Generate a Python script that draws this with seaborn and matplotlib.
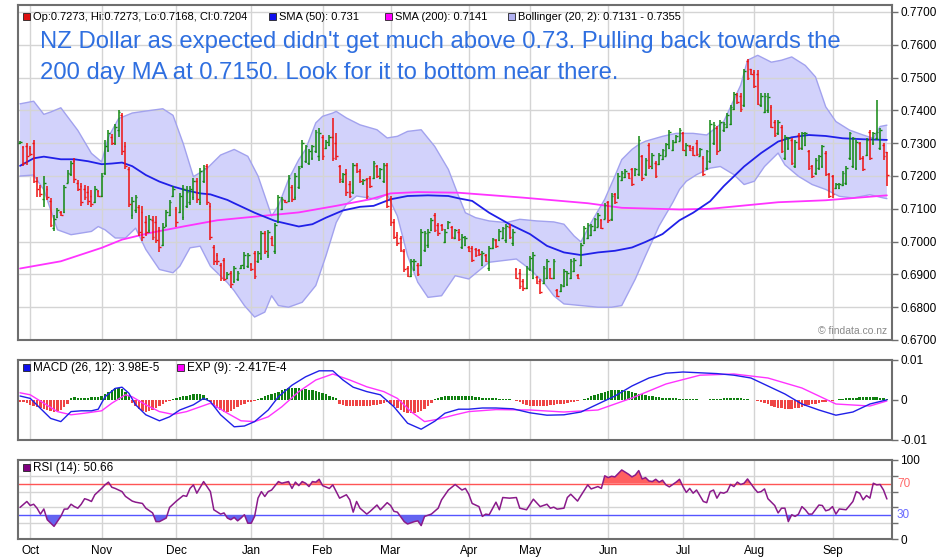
import numpy as np
import matplotlib
matplotlib.use("Agg")
import matplotlib.pyplot as plt
from matplotlib.patches import Rectangle
import matplotlib.transforms as mtransforms
import seaborn as sns

# ---------------- data (prices in pips, 1 pip = 0.0001) ----------------
bar_open = [7300,7288,7290,7285,7300,7185,7165,7130,7160,7125,7040,7075,7090,7090,7180,7205,7245,7180,7170,7160,
            7150,7140,7120,7155,7140,7210,7280,7320,7300,7340,7385,7290,7220,7080,7095,7105,7090,7060,7035,7065,
            7060,7035,6990,7050,7080,7140,7100,7090,7075,7110,7120,7135,7185,7120,7185,7230,7110,6985,6960,6930,
            6945,6888,6905,6880,6885,6918,6920,6925,6932,6965,6940,6950,7025,6960,7010,6970,7060,7100,7126,7125,
            7165,7135,7165,7230,7245,7240,7255,7275,7260,7320,7285,7295,7320,7300,7230,7185,7210,7175,7150,7235,
            7215,7178,7190,7195,7195,7230,7195,7185,7235,7130,7060,7020,7010,6970,6920,6895,6915,6930,6930,6975,
            6990,7035,7080,7050,7050,7000,7040,7045,7010,7030,6985,6990,6985,6980,6978,6975,6930,6958,6920,6980,
            7005,7005,7010,7005,7045,6995,6915,6905,6880,6860,6915,6890,6892,6880,6875,6890,6915,6890,6852,6848,
            6865,6870,6890,6910,6898,6930,6995,7010,7020,7035,7045,7065,7070,7120,7070,7145,7135,7188,7198,7208,
            7220,7202,7205,7260,7205,7295,7225,7240,7238,7252,7262,7285,7280,7303,7308,7330,7265,7292,7285,7300,
            7262,7255,7225,7245,7300,7345,7280,7340,7350,7360,7405,7448,7445,7415,7550,7525,7518,7510,7415,7395,
            7400,7410,7365,7330,7350,7255,7285,7310,7230,7325,7285,7295,7275,7230,7208,7225,7230,7270,7205,7200,
            7162,7162,7172,7178,7255,7230,7225,7300,7255,7265,7335,7300,7315,7285,7295,7273]
bar_high = [7306,7291,7301,7291,7309,7196,7173,7200,7168,7132,7082,7102,7092,7173,7218,7246,7254,7188,7178,7173,
            7168,7158,7168,7158,7208,7309,7339,7329,7360,7402,7392,7304,7226,7135,7142,7112,7109,7077,7082,7077,
            7079,7046,7057,7097,7127,7168,7107,7147,7173,7168,7168,7193,7193,7223,7233,7238,7117,6991,6966,6935,
            6950,6907,6910,6925,6910,6930,6968,6966,6935,6971,6971,7031,7031,7036,7016,7057,7142,7135,7127,7203,
            7173,7208,7230,7311,7296,7281,7296,7341,7346,7326,7311,7326,7377,7331,7235,7210,7220,7184,7240,7240,
            7220,7190,7195,7200,7245,7235,7225,7240,7240,7139,7068,7028,7017,6977,6926,6947,6947,6936,7038,7033,
            7038,7073,7088,7058,7053,7038,7063,7048,7038,7038,7023,7017,6987,6987,6982,6977,6972,6962,6987,7012,
            7007,7038,7043,7053,7053,7038,6921,6916,6886,6926,6957,6967,6896,6886,6926,6947,6921,6947,6856,6871,
            6916,6911,6947,6949,6901,6997,7048,7058,7053,7073,7088,7068,7119,7124,7149,7149,7210,7215,7220,7210,
            7225,7225,7321,7265,7255,7301,7270,7245,7270,7281,7301,7341,7311,7326,7346,7335,7300,7295,7290,7310,
            7285,7260,7280,7371,7366,7351,7371,7366,7391,7416,7457,7452,7452,7527,7558,7527,7522,7522,7452,7452,
            7452,7416,7371,7371,7356,7325,7320,7315,7310,7330,7335,7335,7280,7234,7255,7265,7295,7275,7209,7204,
            7179,7179,7214,7229,7335,7320,7310,7305,7260,7315,7340,7335,7433,7345,7300,7273]
bar_low = [7298,7230,7233,7260,7178,7137,7136,7107,7127,7046,7031,7072,7077,7087,7178,7200,7178,7153,7109,7127,
           7112,7107,7119,7137,7137,7203,7274,7294,7294,7319,7264,7220,7107,7069,7087,7016,7001,7016,7026,7006,
           6996,6968,6986,7046,7077,7137,7046,7087,7067,7102,7112,7127,7117,7112,7178,7112,7006,6930,6930,6880,
           6880,6885,6860,6875,6880,6915,6915,6920,6910,6885,6935,6945,6961,6951,6986,6961,7057,7097,7119,7122,
           7122,7127,7159,7225,7240,7235,7250,7270,7245,7250,7281,7291,7245,7250,7179,7179,7139,7134,7144,7210,
           7179,7174,7129,7164,7190,7195,7190,7179,7103,7048,7007,6987,6967,6906,6891,6891,6911,6896,6926,6967,
           6982,7033,7028,7017,7033,6997,7038,7007,7007,7002,6977,6987,6967,6937,6952,6957,6926,6937,6911,6977,
           6982,7002,7007,6997,7007,6987,6886,6856,6850,6856,6911,6886,6871,6840,6871,6886,6886,6886,6830,6846,
           6861,6866,6886,6906,6886,6926,6992,7007,7017,7033,7043,7038,7068,7058,7063,7114,7129,7184,7195,7190,
           7169,7200,7200,7184,7200,7220,7220,7195,7235,7250,7260,7281,7276,7301,7306,7275,7260,7275,7260,7260,
           7260,7199,7219,7239,7295,7265,7275,7335,7345,7356,7401,7421,7396,7411,7492,7507,7467,7416,7411,7391,
           7391,7345,7320,7325,7270,7250,7280,7234,7224,7280,7280,7290,7219,7194,7204,7219,7224,7199,7133,7133,
           7159,7159,7169,7174,7250,7224,7219,7250,7214,7260,7250,7295,7310,7280,7250,7168]
bar_close = [7305,7240,7262,7268,7185,7160,7145,7180,7135,7050,7070,7095,7080,7165,7210,7240,7190,7160,7120,7135,
             7125,7115,7160,7140,7200,7290,7330,7300,7350,7395,7275,7230,7115,7125,7135,7030,7015,7030,7070,7015,
             7005,6985,7045,7090,7120,7160,7060,7140,7160,7150,7160,7185,7130,7215,7225,7120,7015,6940,6940,6890,
             6885,6900,6870,6920,6905,6928,6960,6960,6915,6895,6965,7025,6970,7030,6990,7050,7135,7130,7120,7195,
             7130,7200,7225,7300,7290,7275,7290,7335,7330,7260,7305,7320,7255,7260,7190,7205,7150,7140,7235,7215,
             7185,7188,7140,7170,7240,7200,7220,7235,7110,7060,7015,6995,6975,6915,6895,6940,6940,6900,7030,7025,
             7030,7065,7035,7025,7038,7030,7060,7015,7035,7008,7015,7012,6970,6945,6960,6962,6965,6942,6980,7008,
             6988,7032,7040,7048,7015,7030,6890,6865,6858,6920,6950,6960,6875,6845,6920,6940,6890,6940,6835,6868,
             6910,6905,6940,6945,6890,6990,7040,7050,7048,7068,7082,7042,7112,7065,7140,7120,7200,7210,7215,7195,
             7175,7220,7310,7195,7250,7230,7265,7200,7265,7278,7298,7335,7305,7322,7340,7280,7295,7280,7265,7268,
             7282,7205,7275,7360,7355,7275,7365,7360,7385,7410,7450,7425,7405,7520,7500,7510,7475,7420,7445,7445,
             7440,7350,7325,7365,7275,7320,7315,7240,7305,7285,7330,7330,7225,7200,7250,7260,7290,7205,7140,7145,
             7175,7176,7210,7225,7330,7315,7305,7255,7220,7310,7255,7330,7335,7340,7260,7204]

sma50_idx = [0,4,7,12,16,20,24,27,30,33,37,41,45,49,53,56,61,63,69,75,82,86,90,95,100,104,109,114,120,126,129,
             133,138,144,150,155,160,165,170,175,180,184,189,194,198,203,207,213,218,223,227,232,237,242,248,255]
sma50 = [7231,7254,7259,7251,7251,7245,7236,7238,7241,7230,7203,7183,7168,7156,7147,7144,7127,7117,7088,7063,
         7046,7053,7073,7095,7106,7109,7129,7139,7141,7139,7132,7124,7088,7053,7023,6987,6967,6959,6967,6972,
         6982,6999,7023,7065,7088,7123,7169,7229,7270,7305,7318,7325,7322,7315,7312,7310]
sma200_idx = [0,12,24,30,38,48,58,68,82,93,103,109,117,129,148,167,177,194,203,213,223,237,255]
sma200 = [6918,6940,6981,7006,7026,7046,7065,7075,7089,7109,7129,7147,7151,7149,7134,7117,7103,7098,7100,7110,
          7120,7126,7141]
bb_up_idx = [0,4,7,9,12,17,21,24,26,29,33,37,42,45,48,51,55,59,63,67,70,73,74,76,79,82,84,87,89,92,93,96,100,
             105,108,111,114,118,122,126,129,131,134,138,143,147,152,157,160,163,165,168,172,175,177,180,182,184,
             189,193,198,202,207,212,214,217,221,224,227,231,234,237,240,244,248,251,253,255]
bb_up = [7420,7428,7388,7395,7408,7339,7269,7243,7319,7375,7392,7398,7405,7385,7299,7198,7223,7264,7281,7260,
         7200,7109,7078,7109,7190,7250,7281,7362,7382,7392,7397,7377,7356,7341,7316,7321,7336,7341,7290,7220,
         7139,7088,7073,7063,7058,7068,7063,7060,7053,7017,6999,7058,7129,7200,7250,7281,7296,7306,7321,7330,
         7330,7325,7366,7477,7553,7568,7547,7553,7563,7537,7502,7411,7366,7340,7325,7315,7351,7355]
bb_lo_idx = [0,4,7,9,11,15,18,21,23,25,28,31,34,37,41,45,47,50,53,56,61,63,66,69,72,74,76,79,83,87,90,93,96,99,
             102,105,108,111,114,117,120,124,128,132,138,146,150,154,157,160,165,170,174,177,181,184,188,192,194,
             196,199,203,206,210,213,216,219,223,225,229,233,237,241,245,250,254,255]
bb_lo = [7200,7203,7158,7097,7036,7021,7026,7031,7046,7036,7011,7011,7041,6976,6915,6905,6925,6981,6986,6925,
         6875,6850,6805,6770,6785,6835,6805,6800,6815,6866,6957,7058,7114,7139,7134,7129,7144,7078,6957,6876,
         6830,6835,6896,6886,6937,6947,6916,6876,6835,6810,6805,6800,6800,6805,6886,6957,7048,7119,7159,7184,
         7204,7224,7229,7204,7174,7184,7229,7270,7234,7199,7174,7159,7138,7133,7143,7133,7131]

# MACD values in units of 1e-4
macd_idx = [0,3,6,9,12,15,18,21,23,25,28,30,32,34,37,41,44,47,51,54,56,59,63,66,69,73,76,80,84,88,92,95,98,102,
            106,110,114,118,122,125,129,132,136,140,145,150,155,160,165,170,175,180,185,190,195,200,205,210,215,
            220,225,230,235,240,245,250,255]
macd = [10,4,-21,-46,-54,-29,-27,-27,-23,8,29,32,17,-12,-37,-52,-42,-25,-12,4,-4,-37,-67,-65,-54,-25,8,37,58,73,
        73,50,32,21,13,-17,-58,-73,-53,-33,-23,-23,-20,-20,-22,-32,-38,-37,-30,-10,10,35,55,67,70,68,66,62,55,
        35,15,-10,-25,-38,-30,-10,0.4]
signal_idx = [0,3,7,11,15,19,24,27,31,33,37,41,45,49,53,56,61,65,69,73,77,82,87,92,97,102,107,111,115,119,123,
              128,132,140,150,160,170,180,190,200,210,220,230,240,250,255]
signal = [18,13,-8,-29,-37,-33,-27,-8,13,8,-12,-29,-36,-29,-17,-8,-33,-52,-54,-42,-17,21,50,65,50,33,21,4,-29,
          -54,-48,-37,-29,-24,-25,-30,-25,5,40,62,65,55,30,-10,-15,-2.4]
hist = [-5,-6,-8, -12,-15,-18,-21,-23, -26,-28,-29,-27,-24, -18,-10,
        6,7,6,5,5,6,7,8,7, 10,14,20,26,29,30,27,20, 12,
        -8,-15,-22,-27,-29,-28,-24,-20,-15,-10,-6,-3,
        3,5,7,9,11,13,15,16,15,12,6,
        -5,-12,-20,-26,-29,-29,-27,-23,-18,-13,-9,-6,-4, -2,
        3,6,9,12,15,18,21,24,27,29,30,30,29,28,27,26,24,22,20,17,14,11,8,5,
        -10,-13,-15,-16,-15,-15,-15,-15,-15,-14,-13,-12,-10,-8,-6,
        -10,-15,-20,-25,-30,-33,-33,-32,-30,-27,-22,-15,-8,
        3,6,8,9,10,10,10,10,10,10,10,
        9,8,7,6,5,5,4,4,3,3,2,2,1,
        -3,-6,-9,-12,-14,-15,-16,-16,-15,-14,-13,-12,-11,-10,-9,-8,-6,-4,-2,-1,
        3,6,9,12,15,18,20,22,24,25,25,24,23,22,20,18,16,14,12,10,9,8,7,6,5,5,4,4,3,3,3,2,2,2,1,
        1,1,2,2,3,3,4,4,5,5,5,4,3,2,1,-1,-2,
        -5,-8,-11,-14,-17,-19,-21,-22,-23,-22,-21,-19,-17,-15,-13,-11,-9,-7,-5,-4,-3,-2,-1,
        2,3,4,5,6,6,7,7,7,8,8,7,6,5,3]

rsi_idx = [0,2,3,4,5,6,7,8,10,12,13,14,15,16,17,18,19,20,21,22,24,25,26,27,28,30,31,33,34,36,37,39,40,41,43,44,
           46,48,49,50,51,52,54,56,57,59,60,61,62,63,64,65,66,67,68,69,70,71,72,73,74,76,77,79,80,81,82,83,84,85,
           86,87,88,89,91,92,93,94,96,97,98,99,100,102,103,105,106,108,109,110,111,113,114,116,117,118,119,121,
           123,124,126,128,130,131,132,133,135,136,137,138,140,141,142,144,146,147,149,151,153,155,156,157,158,
           160,161,162,164,165,167,168,170,171,172,173,174,175,176,177,179,180,181,182,183,184,185,186,187,188,
           189,190,191,193,194,195,196,197,198,199,201,202,203,204,205,206,207,208,209,210,211,212,213,214,216,
           217,218,219,220,221,222,223,224,225,226,227,228,229,230,231,232,233,235,236,237,238,239,240,241,243,
           245,246,247,248,249,250,251,252,253,254,255]
rsi = [40,47.5,42.4,44,39,31.5,38,24.4,16,28.6,37.8,38,44,41,39,44,51,49.6,47.5,56,64,68.5,72,65.5,64,60,54,48,
       46.6,45,39,33,22,22,26.5,40,48,55,54,64,68.5,58,72.7,60,37,31.5,33,26.5,24.4,27.3,23,26.5,30.7,20,20,28.6,
       51.7,60,53.8,60,62,72.7,70.6,72.7,64,72,67.6,72.7,70.6,66.4,72.7,72,75.6,67.6,64,68.5,60,51.7,56,49.6,34,
       47.5,39,31.5,35,43,37,46,42.4,35,34,22,19,22,23,17,28.6,31.5,39,49.6,62,69,62,64,56.7,45,41,28.6,31.5,30.7,
       46.6,37,52.5,51.7,52.5,39,37,50.4,41,44,39,40.3,37.8,39,52.5,56.7,48,55,68.5,63.4,66.4,64,80,77.7,79.4,78.6,
       83,87.4,82,78.6,81,86.6,76,77.7,73.5,72.7,75.6,72,74.4,68.5,66,72,75.6,66.4,59,64,58,62,47.5,46,60,62,51.7,
       59,58,60,69,66.4,72,69,70.6,76,64,59,60,63.4,51,46.6,42.4,33,39,39,22,30.7,28.6,31.5,41,37,31.5,31.5,43,
       42.4,35.7,37,41,31.5,38,37,47.5,60,58,49.6,55,51.7,70.6,68.5,69,62,50.66]

month_labels = ["Oct", "Nov", "Dec", "Jan", "Feb", "Mar", "Apr", "May", "Jun", "Jul", "Aug", "Sep"]
month_idx = [3, 24, 46, 68, 89, 109, 132, 150, 173, 195, 216, 239]

title_lines = ["NZ Dollar as expected didn't get much above 0.73. Pulling back towards the",
               "200 day MA at 0.7150. Look for it to bottom near there."]

# ---------------- style ----------------
sns.set_style("white")
plt.rcParams["font.family"] = ["Liberation Sans", "DejaVu Sans"]

W, H = 940, 560
fig = plt.figure(figsize=(W / 100, H / 100), dpi=100)

def fx(px):
    return px / W

def fy(py):
    return 1 - py / H

LEFT, RIGHT = 18, 892
SPINE = "#6e6e6e"
GRID = "#d4d4d4"
GREEN = "#118811"
RED = "#ee1111"
BLUE = "#2020e8"
MAGENTA = "#ff33ff"

ax1 = fig.add_axes([fx(LEFT), fy(340), fx(RIGHT - LEFT), (340 - 5) / H])
ax2 = fig.add_axes([fx(LEFT), fy(440), fx(RIGHT - LEFT), 80 / H])
ax3 = fig.add_axes([fx(LEFT), fy(539), fx(RIGHT - LEFT), 79 / H])

n = len(bar_close)
xs = np.arange(n)
XMIN, XMAX = -0.6, 256.5

for ax in (ax1, ax2, ax3):
    ax.set_xlim(XMIN, XMAX)
    for s in ax.spines.values():
        s.set_color(SPINE)
        s.set_linewidth(1.5)
    for m in month_idx:
        ax.axvline(m, color=GRID, lw=1.0, zorder=1)
    ax.yaxis.tick_right()
    ax.tick_params(axis="y", direction="out", length=4, width=1, colors=SPINE,
                   labelcolor="black", labelsize=8.5, pad=2)
    ax.tick_params(axis="x", length=0, labelbottom=False)

# ---------------- main price panel ----------------
o = np.array(bar_open) / 1e4
h = np.array(bar_high) / 1e4
l = np.array(bar_low) / 1e4
c = np.array(bar_close) / 1e4
ax1.set_ylim(0.67, 0.77 + 7 / 3280)
for yv in np.arange(0.67, 0.7701, 0.01):
    ax1.axhline(yv, color=GRID, lw=1.0, zorder=1)

bu_x = np.array(bb_up_idx); bu_y = np.array(bb_up) / 1e4
bl_x = np.array(bb_lo_idx); bl_y = np.array(bb_lo) / 1e4
ax1.fill(np.r_[bu_x, bl_x[::-1]], np.r_[bu_y, bl_y[::-1]], facecolor="#d2d2fb", edgecolor="none", zorder=0.5)
sns.lineplot(x=bu_x, y=bu_y, ax=ax1, color="#a2a2ee", lw=1.0, sort=False, estimator=None, zorder=2)
sns.lineplot(x=bl_x, y=bl_y, ax=ax1, color="#a2a2ee", lw=1.0, sort=False, estimator=None, zorder=2)

sns.lineplot(x=np.array(sma200_idx), y=np.array(sma200) / 1e4, ax=ax1, color=MAGENTA, lw=1.3,
             sort=False, estimator=None, zorder=3)
sns.lineplot(x=np.array(sma50_idx), y=np.array(sma50) / 1e4, ax=ax1, color=BLUE, lw=1.3,
             sort=False, estimator=None, zorder=3)

cols = np.where(c >= o, GREEN, RED)
ax1.vlines(xs, l, h, colors=cols, lw=1.1, zorder=4)
ax1.hlines(o, xs - 0.5, xs, colors=cols, lw=1.0, zorder=4)
ax1.hlines(c, xs, xs + 0.5, colors=cols, lw=1.0, zorder=4)

ax1.set_yticks(np.round(np.arange(0.67, 0.7701, 0.01), 2))
ax1.set_yticklabels([f"{v:.4f}" for v in np.arange(0.67, 0.7701, 0.01)])
ax1.text(0.994, 0.012, "\u00a9 findata.co.nz", transform=ax1.transAxes, ha="right", va="bottom",
         fontsize=7.5, color="#8a8a8a", zorder=5)

# ---------------- MACD panel ----------------
ax2.set_ylim(-0.01, 0.01)
hv = np.array(hist) * 1e-4
ax2.bar(xs, hv, width=0.72, color=np.where(hv >= 0, "#108010", "#ee4444"), zorder=2, linewidth=0)
sns.lineplot(x=np.array(signal_idx), y=np.array(signal) * 1e-4, ax=ax2, color=MAGENTA, lw=1.0,
             sort=False, estimator=None, zorder=3)
sns.lineplot(x=np.array(macd_idx), y=np.array(macd) * 1e-4, ax=ax2, color=BLUE, lw=1.0,
             sort=False, estimator=None, zorder=4)
ax2.set_yticks([-0.01, 0, 0.01])
ax2.set_yticklabels(["-0.01", "0", "0.01"])

# ---------------- RSI panel ----------------
ax3.set_ylim(0, 100)
for yv in (20, 40, 60, 80):
    ax3.axhline(yv, color=GRID, lw=1.0, zorder=1)
ax3.axhline(70, color="#ff5555", lw=1.0, zorder=2)
ax3.axhline(30, color="#5555ff", lw=1.0, zorder=2)
rx = np.array(rsi_idx); ry = np.array(rsi)
ax3.fill_between(rx, ry, 70, where=ry > 70, interpolate=True, color="#ff6060", lw=0, zorder=2)
ax3.fill_between(rx, ry, 30, where=ry < 30, interpolate=True, color="#6464f0", lw=0, zorder=2)
sns.lineplot(x=rx, y=ry, ax=ax3, color="#8a1a8a", lw=1.1, sort=False, estimator=None, zorder=3)
ax3.set_yticks([0, 20, 40, 60, 80, 100])
ax3.set_yticklabels(["0", "", "", "", "", "100"])
tr = mtransforms.blended_transform_factory(ax3.transAxes, ax3.transData)
ax3.text(1.0 + 5 / (RIGHT - LEFT), 70, "70", transform=tr, color="#ff6a6a", fontsize=8.5, va="center")
ax3.text(1.0 + 5 / (RIGHT - LEFT), 30, "30", transform=tr, color="#6a6aff", fontsize=8.5, va="center")
ax3.set_xticks(month_idx)
ax3.set_xticklabels(month_labels)
ax3.tick_params(axis="x", length=0, labelbottom=True, labelsize=8.5, pad=4, labelcolor="black")

for ax in (ax1, ax2, ax3):
    ax.set_xlabel("")
    ax.set_ylabel("")

# ---------------- legends ----------------
def legend_item(px, py, color, text, fs=8.0):
    fig.add_artist(Rectangle((fx(px), fy(py + 4)), 7 / W, 7 / H, transform=fig.transFigure,
                             facecolor=color, edgecolor="#222222", lw=0.6))
    fig.text(fx(px + 10), fy(py + 0.5), text, fontsize=fs, va="center", ha="left", color="black")

legend_item(23, 16, "#dd1111", "Op:0.7273, Hi:0.7273, Lo:0.7168, Cl:0.7204")
legend_item(269, 16, "#1010ee", "SMA (50): 0.731")
legend_item(385, 16, "#ff00ff", "SMA (200): 0.7141")
legend_item(508, 16, "#b0b0f0", "Bollinger (20, 2): 0.7131 - 0.7355")
legend_item(23, 367, "#1010ee", "MACD (26, 12): 3.98E-5", fs=8.5)
legend_item(177, 367, "#ff00ff", "EXP (9): -2.417E-4", fs=8.5)
legend_item(23, 467, "#800080", "RSI (14): 50.66", fs=8.5)

fig.text(fx(40), fy(42), title_lines[0], fontsize=17.2, color="#2f6fe0", va="center", ha="left")
fig.text(fx(40), fy(73), title_lines[1], fontsize=17.2, color="#2f6fe0", va="center", ha="left")

fig.savefig("out.png", dpi=100)
